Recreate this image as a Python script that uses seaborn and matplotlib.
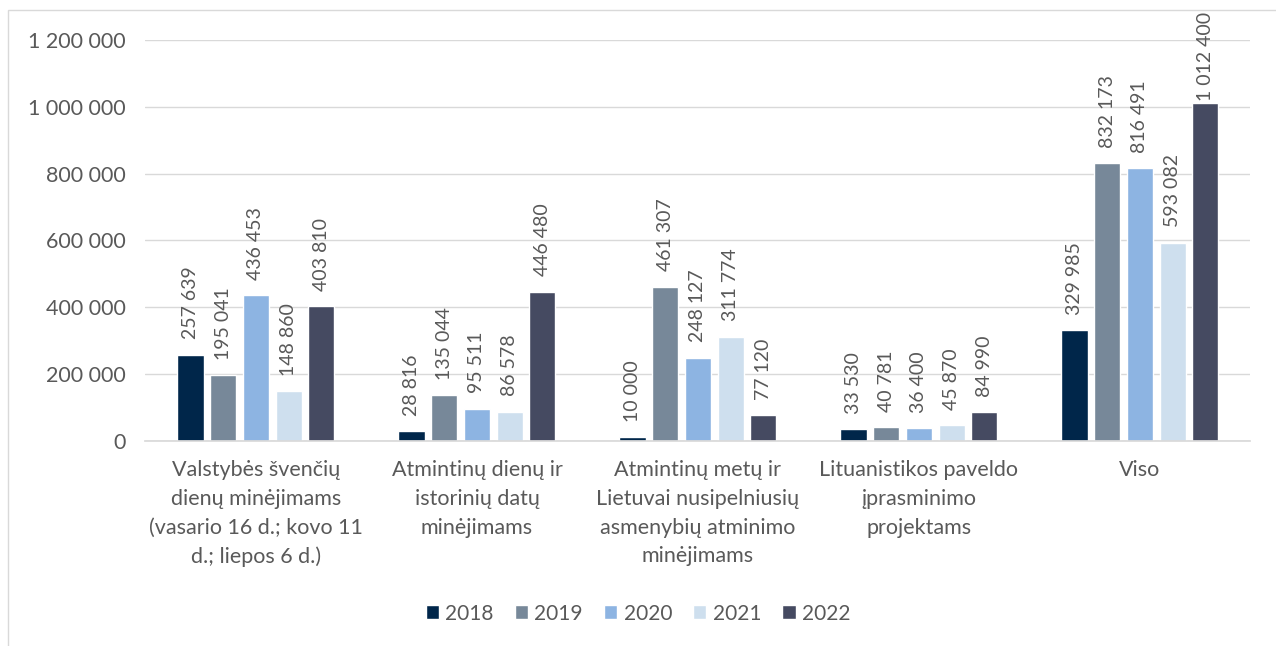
import pandas as pd
import seaborn as sns
import matplotlib.pyplot as plt
from matplotlib.patches import Rectangle

# categories and yearly values
categories = [
    "Valstybės švenčių\ndienų minėjimams\n(vasario 16 d.; kovo 11\nd.; liepos 6 d.)",
    "Atmintinų dienų ir\nistorinių datų\nminėjimams",
    "Atmintinų metų ir\nLietuvai nusipelniusių\nasmenybių atminimo\nminėjimams",
    "Lituanistikos paveldo\nįprasminimo\nprojektams",
    "Viso",
]
years = ["2018", "2019", "2020", "2021", "2022"]
v2018 = [257639, 28816, 10000, 33530, 329985]
v2019 = [195041, 135044, 461307, 40781, 832173]
v2020 = [436453, 95511, 248127, 36400, 816491]
v2021 = [148860, 86578, 311774, 45870, 593082]
v2022 = [403810, 446480, 77120, 84990, 1012400]
colors = ["#00264a", "#778899", "#8db4e2", "#cedfee", "#454a61"]

rows = []
for year, vals in zip(years, [v2018, v2019, v2020, v2021, v2022]):
    for cat, v in zip(categories, vals):
        rows.append({"cat": cat, "year": year, "value": v})
df = pd.DataFrame(rows)

sns.set_theme(style="white")
plt.rcParams["font.family"] = ["Lato", "DejaVu Sans"]
text_color = "#595959"

fig = plt.figure(figsize=(12.76, 6.46), dpi=100)
ax = fig.add_axes([0.114, 0.318, 0.866, 0.62])

sns.barplot(data=df, x="cat", y="value", hue="year", palette=colors,
            width=0.74, gap=0.2, saturation=1, ax=ax, legend=True)

def fmt(v):
    return f"{v:,.0f}".replace(",", " ")

# labels sit a bit above the bars; the tallest one is pulled down to stay inside
for container in ax.containers:
    for b in container:
        h = b.get_height()
        pad = 1 if h > 950000 else 11
        ax.annotate(fmt(h), (b.get_x() + b.get_width() / 2, h),
                    xytext=(0, pad), textcoords="offset points",
                    rotation=90, ha="center", va="bottom",
                    fontsize=14, color=text_color)

ax.set_ylim(0, 1200000)
ax.set_yticks(range(0, 1200001, 200000))
ax.set_yticklabels([fmt(t) for t in range(0, 1200001, 200000)])
ax.yaxis.grid(True, color="#d9d9d9", linewidth=1)
ax.set_axisbelow(True)
for s in ["top", "right", "left"]:
    ax.spines[s].set_visible(False)
ax.spines["bottom"].set_color("#d9d9d9")
ax.tick_params(axis="both", colors=text_color, length=0)
ax.tick_params(axis="x", labelsize=15.5, pad=14)
ax.tick_params(axis="y", labelsize=15.5, pad=14)
ax.set_xlabel("")
ax.set_ylabel("")
for lab in ax.get_xticklabels():
    lab.set_linespacing(1.55)

ax.get_legend().remove()
handles, labels = ax.get_legend_handles_labels()
fig.legend(handles, labels, loc="center", bbox_to_anchor=(0.5, 0.05), ncol=5,
           frameon=False, fontsize=15, labelcolor=text_color, handlelength=0.65,
           handleheight=0.65, handletextpad=0.3, columnspacing=1.0)

fig.patches.append(Rectangle((0.006, -0.02), 1.2, 1.004, transform=fig.transFigure,
                             fill=False, edgecolor="#d9d9d9", linewidth=1))

fig.savefig("out.png", dpi=100)
